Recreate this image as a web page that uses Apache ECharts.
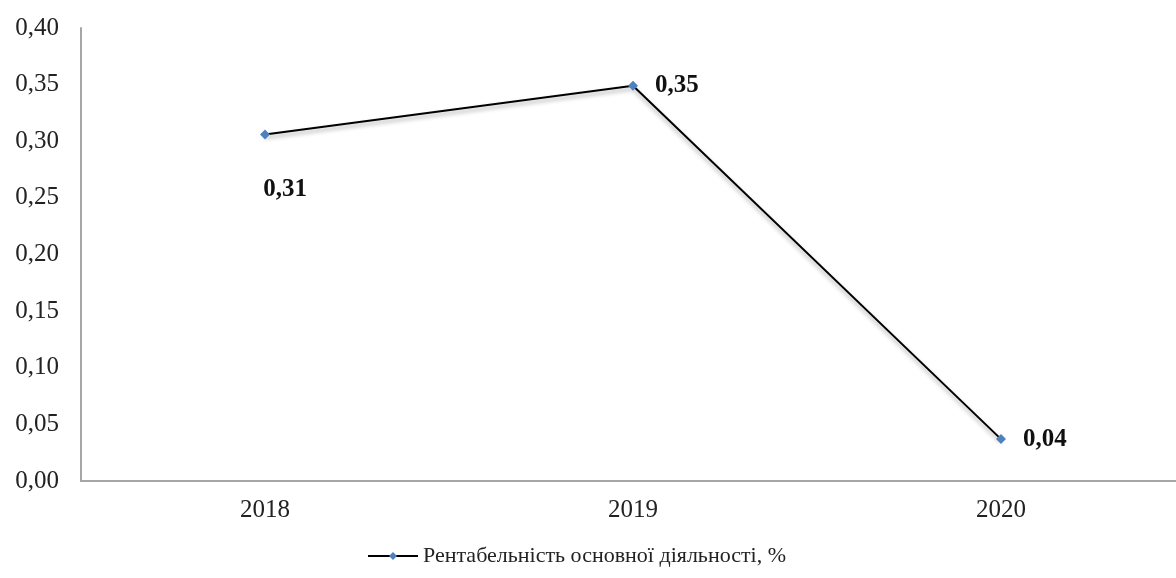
<!DOCTYPE html>
<html lang="uk">
<head>
    <meta charset="UTF-8">
    <title>Рентабельність основної діяльності</title>
    <script src="https://cdn.jsdelivr.net/npm/echarts@6/dist/echarts.min.js"></script>
    <style>
        html, body { margin: 0; padding: 0; background: #fff; }
        #chart { width: 1176px; height: 578px; }
    </style>
</head>
<body>
    <div id="chart"></div>
    <script>
        var years = ['2018', '2019', '2020'];
        var values = [0.306, 0.349, 0.037];
        var seriesName = 'Рентабельність основної діяльності, %';

        function comma(v) {
            return v.toFixed(2).replace('.', ',');
        }

        // підписи: перший під точкою, решта праворуч
        var points = values.map(function (v, i) {
            var item = { value: v };
            if (i === 0) {
                item.label = { position: 'bottom', offset: [20, 21] };
            }
            return item;
        });

        var chart = echarts.init(document.getElementById('chart'));
        chart.setOption({
            animation: false,
            textStyle: { fontFamily: 'Liberation Serif, Times New Roman, serif' },
            grid: {
                left: 81, top: 28, width: 1104, height: 453,
                containLabel: false,
                outerBoundsMode: 'none'
            },
            xAxis: {
                type: 'category',
                data: years,
                axisLine: { lineStyle: { color: '#a6a6a6', width: 2 } },
                axisTick: { show: false },
                axisLabel: { color: '#222', fontSize: 25, margin: 17 }
            },
            yAxis: {
                type: 'value',
                min: 0,
                max: 0.4,
                interval: 0.05,
                axisLine: { show: true, lineStyle: { color: '#a6a6a6', width: 2 } },
                axisTick: { show: false },
                splitLine: { show: false },
                axisLabel: {
                    color: '#222',
                    fontSize: 25,
                    margin: 22,
                    formatter: function (v) { return comma(v); }
                }
            },
            legend: {
                bottom: 6,
                left: 362,
                itemWidth: 50,
                itemHeight: 10,
                itemGap: 6,
                textStyle: { color: '#222', fontSize: 22 },
                data: [seriesName]
            },
            series: [{
                name: seriesName,
                type: 'line',
                data: points,
                symbol: 'diamond',
                symbolSize: 10,
                itemStyle: { color: '#4f81bd' },
                lineStyle: {
                    color: '#000',
                    width: 2,
                    shadowColor: 'rgba(0,0,0,0.35)',
                    shadowBlur: 4,
                    shadowOffsetY: 3
                },
                label: {
                    show: true,
                    position: 'right',
                    distance: 17,
                    color: '#111',
                    fontSize: 25,
                    fontWeight: 'bold',
                    formatter: function (p) { return comma(p.value); }
                }
            }]
        });
    </script>
</body>
</html>
